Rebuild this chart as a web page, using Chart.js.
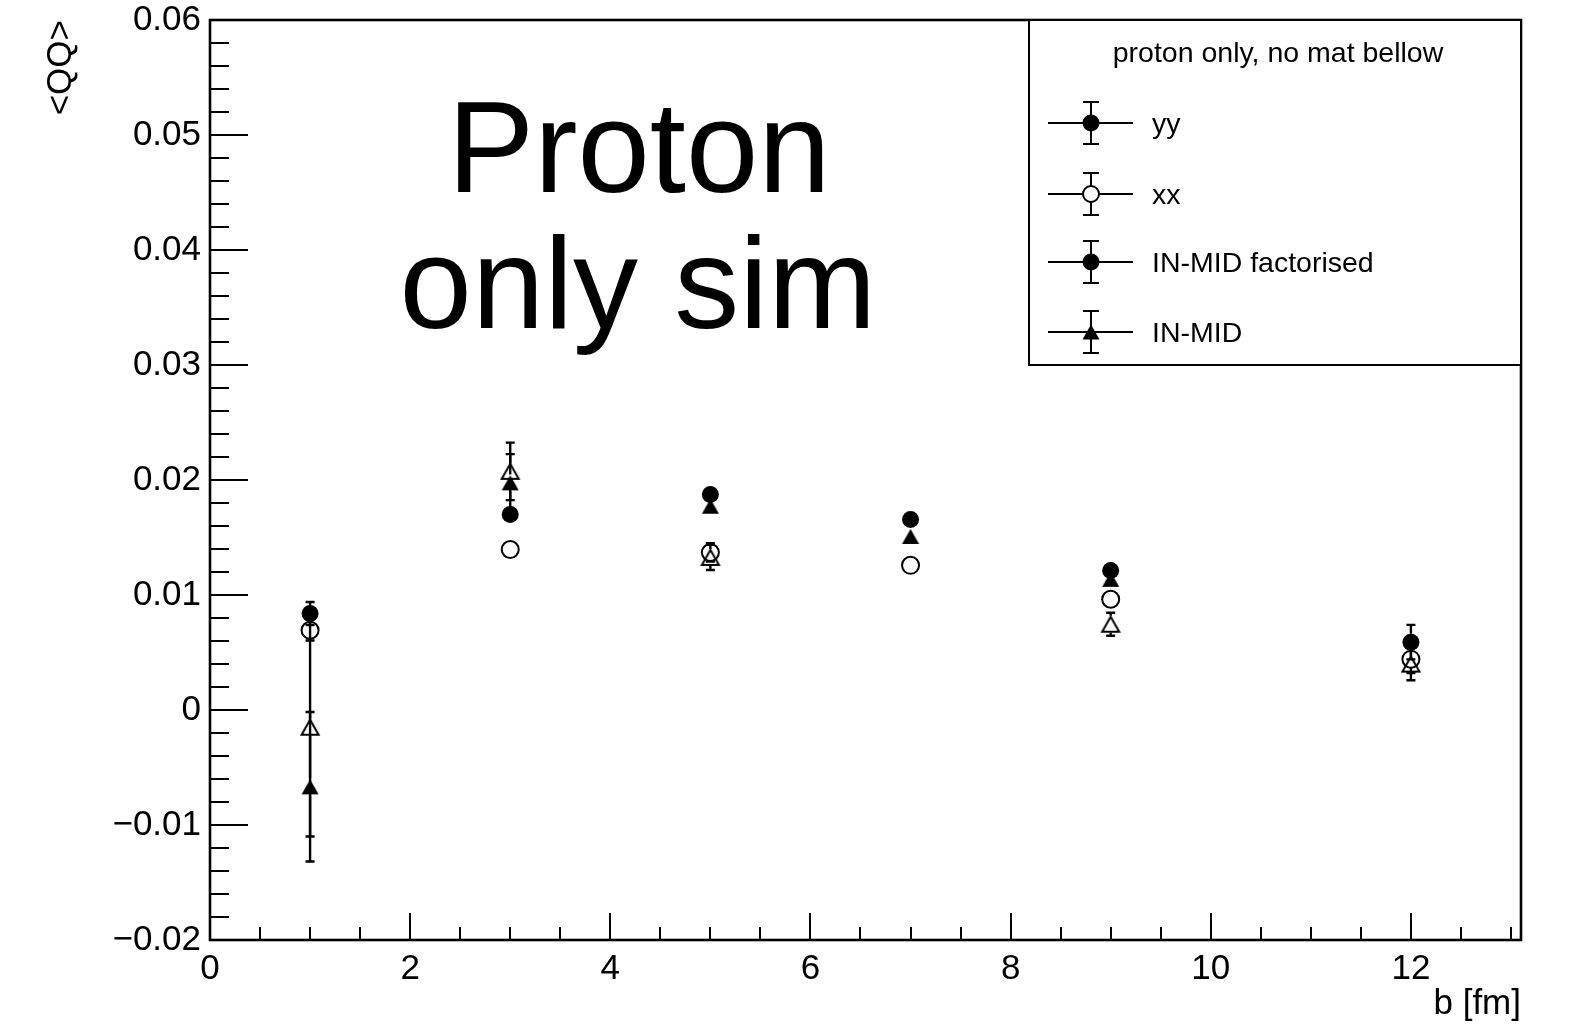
<!DOCTYPE html>
<html><head><meta charset="utf-8">
<script src="https://cdn.jsdelivr.net/npm/chart.js@4.4.0/dist/chart.umd.min.js"></script>
<style>html,body{margin:0;padding:0;background:#fff;}#wrap{width:1572px;height:1026px;}</style>
</head><body><div id="wrap"><canvas id="c" width="1572" height="1026"></canvas></div>
<script>
// ---- data ----
const bValues     = [1, 3, 5, 7, 9, 12];
const yyValues    = [0.00839, 0.0170, 0.01873, 0.01657, 0.01214, 0.0059];
const yyErrors    = [0.0010, 0.0004, 0.0005, 0.0004, 0.0004, 0.0015];
const xxValues    = [0.00694, 0.01396, 0.0137, 0.01258, 0.00963, 0.00442];
const xxErrors    = [0.0009, 0.0004, 0.0008, 0.0004, 0.0004, 0.0012];
const factValues  = [-0.0015, 0.02075, 0.01327, null, 0.00746, 0.00399];
const factErrors  = [0.0095, 0.0025, 0.0011, 0, 0.0010, 0.0014];
const inmidValues = [-0.00668, 0.01975, 0.01772, 0.01509, 0.01136, null];
const inmidErrors = [0.0065, 0.0025, 0.0007, 0.0006, 0.0005, 0];
const xTickLabels = [0, 2, 4, 6, 8, 10, 12];
const yTickLabels = [-0.02, -0.01, 0, 0.01, 0.02, 0.03, 0.04, 0.05, 0.06];
const legendTitle = 'proton only, no mat bellow';
const legendLabels = ['yy', 'xx', 'IN-MID factorised', 'IN-MID'];
const bigText = ['Proton', 'only sim'];

const FONT = '"Liberation Sans", Arial, Helvetica, sans-serif';
const MARKER_GAP = 8.5;

function triImg(filled) {
  const c = document.createElement('canvas');
  c.width = 22; c.height = 19;
  const g = c.getContext('2d');
  g.beginPath();
  g.moveTo(11, 2); g.lineTo(19.5, 17); g.lineTo(2.5, 17); g.closePath();
  if (filled) { g.fillStyle = '#000'; g.fill(); }
  else { g.lineWidth = 2; g.strokeStyle = '#000'; g.stroke(); }
  return c;
}
const triFilled = triImg(true), triOpen = triImg(false);

function pts(vals) { return bValues.map((b, i) => ({x: b, y: vals[i]})); }

const errorBars = {
  id: 'errorBars',
  beforeDatasetsDraw(chart) {
    const ctx = chart.ctx, ys = chart.scales.y;
    ctx.save();
    ctx.strokeStyle = '#000'; ctx.lineWidth = 2.4;
    chart.data.datasets.forEach((ds, i) => {
      const meta = chart.getDatasetMeta(i);
      meta.data.forEach((el, j) => {
        const v = ds.data[j].y, e = ds.errors[j];
        if (v === null || !e) return;
        const px = el.x, py = ys.getPixelForValue(v);
        const y1 = ys.getPixelForValue(v + e), y2 = ys.getPixelForValue(v - e);
        if (py - y1 <= MARKER_GAP) return;
        ctx.beginPath();
        ctx.moveTo(px, py - MARKER_GAP); ctx.lineTo(px, y1);
        ctx.moveTo(px, py + MARKER_GAP); ctx.lineTo(px, y2);
        ctx.moveTo(px - 4.5, y1); ctx.lineTo(px + 4.5, y1);
        ctx.moveTo(px - 4.5, y2); ctx.lineTo(px + 4.5, y2);
        ctx.stroke();
      });
    });
    ctx.restore();
  }
};

const frameTicks = {
  id: 'frameTicks',
  afterDraw(chart) {
    const ctx = chart.ctx, xs = chart.scales.x, ys = chart.scales.y, ca = chart.chartArea;
    ctx.save();
    ctx.strokeStyle = '#000';
    ctx.lineWidth = 2;
    ctx.beginPath();
    for (let k = 0; k <= 26; k++) {
      const v = k * 0.5;
      if (v > xs.max) break;
      const px = Math.round(xs.getPixelForValue(v));
      const len = (k % 4 === 0) ? 27 : 13;
      ctx.moveTo(px, ca.bottom); ctx.lineTo(px, ca.bottom - len);
    }
    for (let k = -10; k <= 30; k++) {
      const py = Math.round(ys.getPixelForValue(k * 0.002));
      const len = (k % 5 === 0) ? 38 : 19;
      ctx.moveTo(ca.left, py); ctx.lineTo(ca.left + len, py);
    }
    ctx.stroke();
    ctx.lineWidth = 2.6;
    ctx.strokeRect(ca.left, ca.top, ca.right - ca.left, ca.bottom - ca.top);
    ctx.restore();
  }
};

const annotations = {
  id: 'annotations',
  afterDraw(chart) {
    const ctx = chart.ctx, ca = chart.chartArea;
    ctx.save();
    ctx.fillStyle = '#000'; ctx.strokeStyle = '#000';
    // big text
    ctx.font = '130px ' + FONT;
    ctx.textAlign = 'center'; ctx.textBaseline = 'alphabetic';
    ctx.fillText(bigText[0], 639, 192);
    ctx.fillText(bigText[1], 638, 328);
    // legend box
    const L = 1029, T = ca.top, R = ca.right, B = 365;
    ctx.fillStyle = '#fff';
    ctx.fillRect(L, T, R - L, B - T);
    ctx.fillStyle = '#000';
    ctx.lineWidth = 2;
    ctx.strokeRect(L, T, R - L, B - T);
    ctx.font = '28.5px ' + FONT;
    ctx.textAlign = 'center';
    ctx.fillText(legendTitle, 1278, 62);
    const rows = [123, 194, 262, 332];
    const mk = ['fc', 'oc', 'fc', 'ft'];
    ctx.textAlign = 'left';
    rows.forEach((y, i) => {
      const mx = 1091;
      ctx.lineWidth = 2;
      ctx.beginPath();
      ctx.moveTo(1048, y); ctx.lineTo(1133, y);
      ctx.moveTo(mx, y - 21); ctx.lineTo(mx, y + 21);
      ctx.moveTo(mx - 8, y - 21); ctx.lineTo(mx + 8, y - 21);
      ctx.moveTo(mx - 8, y + 21); ctx.lineTo(mx + 8, y + 21);
      ctx.stroke();
      if (mk[i] === 'fc') { ctx.beginPath(); ctx.arc(mx, y, 8.5, 0, Math.PI * 2); ctx.fill(); }
      else if (mk[i] === 'oc') { ctx.fillStyle = '#fff'; ctx.beginPath(); ctx.arc(mx, y, 8, 0, Math.PI * 2); ctx.fill(); ctx.stroke(); ctx.fillStyle = '#000'; }
      else { ctx.drawImage(triFilled, mx - 11, y - 9.5); }
      ctx.fillText(legendLabels[i], 1152, y + 10);
    });
    ctx.restore();
  }
};

function fmt(v) {
  const r = Math.round(v * 100) / 100;
  if (r === 0) return '0';
  const s = Math.abs(r).toFixed(2);
  return (r < 0 ? '\u2212' : '') + s;
}

new Chart(document.getElementById('c'), {
  type: 'scatter',
  data: {
    datasets: [
      {label: legendLabels[0], data: pts(yyValues), errors: yyErrors, pointStyle: 'circle', pointRadius: 8.5, pointHoverRadius: 8.5, backgroundColor: '#000', borderColor: '#000', borderWidth: 0, order: 4},
      {label: legendLabels[1], data: pts(xxValues), errors: xxErrors, pointStyle: 'circle', pointRadius: 8.5, pointHoverRadius: 8.5, backgroundColor: 'rgba(0,0,0,0)', borderColor: '#000', borderWidth: 2, order: 3},
      {label: legendLabels[2], data: pts(factValues), errors: factErrors, pointStyle: triOpen, backgroundColor: 'rgba(0,0,0,0)', borderColor: '#000', order: 2},
      {label: legendLabels[3], data: pts(inmidValues), errors: inmidErrors, pointStyle: triFilled, backgroundColor: '#000', borderColor: '#000', order: 1}
    ]
  },
  options: {
    responsive: false, animation: false, devicePixelRatio: 1,
    layout: {padding: {left: 0, right: 51, top: 20, bottom: 0}},
    plugins: {legend: {display: false}, tooltip: {enabled: false}},
    events: [],
    scales: {
      x: {
        type: 'linear', min: 0, max: 13.1,
        afterFit(s) { s.height = 86; s.paddingLeft = 0; s.paddingRight = 0; },
        afterBuildTicks(s) { s.ticks = xTickLabels.map(v => ({value: v})); },
        grid: {display: false, drawTicks: false},
        border: {display: false},
        ticks: {color: '#000', font: {family: FONT, size: 35}, padding: 8, maxRotation: 0, autoSkip: false, callback: v => String(v)},
        title: {display: true, text: 'b [fm]', align: 'end', color: '#000', font: {family: FONT, size: 35}, padding: {top: 0, bottom: 1}}
      },
      y: {
        type: 'linear', min: -0.02, max: 0.06,
        afterFit(s) { s.width = 210; s.paddingTop = 0; s.paddingBottom = 0; },
        afterBuildTicks(s) { s.ticks = yTickLabels.map(v => ({value: v})); },
        grid: {display: false, drawTicks: false},
        border: {display: false},
        ticks: {color: '#000', font: {family: FONT, size: 35}, padding: 9, autoSkip: false, callback: v => fmt(v)},
        title: {display: true, text: '<QQ>', align: 'end', color: '#000', font: {family: FONT, size: 35}, padding: {top: 40, bottom: 0}}
      }
    }
  },
  plugins: [errorBars, frameTicks, annotations]
});
</script></body></html>
